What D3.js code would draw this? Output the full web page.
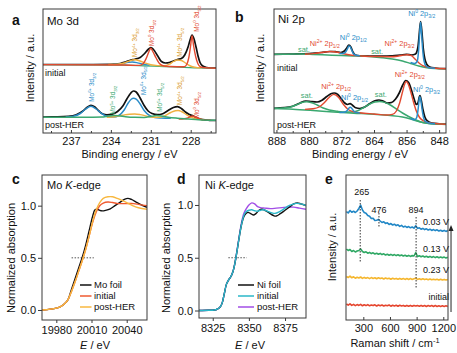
<!DOCTYPE html>
<html><head><meta charset="utf-8">
<script src="https://cdn.jsdelivr.net/npm/d3@7"></script>
<style>body{margin:0;background:#fff} text{font-family:"Liberation Sans",Arial,sans-serif}</style>
</head><body><script>
// ---- colours
const RED="#e2492f", ORANGE="#f0b040", ORANGE_T="#d99a2b", BLUE="#2a8cc8", GREEN="#3aa870";

// ---- panel a : Mo 3d  [binding energy, intensity]
const moInitTotal=[[239.1,68.5],[236,68.5],[234,68.7],[233.3,69.5],[232.9,71],[232.5,73],[232.2,73.8],[231.8,75.5],[231.5,79],[231.2,83.5],[231.0,85.3],[230.8,83.5],[230.5,77.5],[230.2,71.5],[229.9,70],[229.6,70.5],[229.3,72],[229.0,73.5],[228.7,74.5],[228.45,78],[228.2,86],[228.05,93],[227.9,98],[227.75,94],[227.6,86],[227.45,77],[227.3,70.5],[227.1,67],[226.8,65.5],[226.1,64.8]];
const moInitMo0=[[239.1,68.4],[233,68],[231.9,67.6],[231.6,69],[231.35,74.5],[231.15,81],[231.0,84.8],[230.85,81.5],[230.6,75],[230.35,69.5],[230.0,67],[229,66.3],[228.5,66.2],[228.3,68.5],[228.15,75],[228.02,86],[227.9,97.3],[227.78,87],[227.62,76],[227.45,69],[227.25,66],[226.9,65.2],[226.1,64.8]];
const moInitMo4=[[234.2,68.5],[233.5,68.8],[233,70],[232.6,72.2],[232.2,73.3],[231.8,72],[231.4,69.8],[231,68.3],[230.5,67.4],[230,67.2],[229.6,68.8],[229.3,71.5],[229,73],[228.7,72.5],[228.4,70],[228.1,67.5],[227.7,65.8],[227.2,65.1]];
const moInitMo6=[[233.8,68.6],[233.2,69.2],[232.7,70.6],[232.4,71],[232.0,70.2],[231.6,68.8],[231.1,67.9]];
const moInitBg=[[239.1,68.3],[235,68.2],[233,67.9],[231.5,67.2],[230,66.4],[228.5,65.7],[227.5,65.1],[226.1,64.7]];
const moPostTotal=[[239.1,16],[238,16.1],[237.2,16.6],[236.6,18.2],[236.1,22],[235.8,25.5],[235.5,27.7],[235.2,26],[234.9,22],[234.6,19],[234.3,18.2],[233.9,18.8],[233.5,21.5],[233.1,27],[232.8,34],[232.5,40],[232.3,42],[232.1,41],[231.8,35],[231.5,27.5],[231.2,22],[230.9,19.5],[230.5,18.3],[230.1,19.3],[229.7,22.5],[229.3,25.5],[229.0,26.3],[228.7,24.5],[228.4,21],[228.1,18.5],[227.8,17],[227.5,15],[227.1,13.3],[226.6,12.7],[226.1,12.5]];
const moPostMo6=[[237.4,15.9],[236.8,16.8],[236.3,19.5],[235.9,24],[235.5,26.8],[235.1,24],[234.7,19.5],[234.3,16.6],[233.8,15.9],[233.4,17.5],[233.0,23],[232.7,30],[232.45,34],[232.3,34.7],[232.1,33.8],[231.8,29],[231.5,22.5],[231.1,17.5],[230.7,15.5],[230.2,15],[229.5,14.7]];
const moPostMo4=[[234.3,15.8],[233.7,16.3],[233.1,17.8],[232.6,18.8],[232.2,19],[231.8,18.4],[231.3,16.9],[230.8,15.8],[230.3,15.8],[229.9,17.5],[229.5,20.5],[229.15,22.3],[228.95,22.5],[228.7,21.5],[228.4,19],[228.0,16],[227.6,14.2],[227.0,13.2]];
const moPostMo5=[[239.1,15.8],[236,15.8],[234.7,16],[234.2,16.9],[233.8,17.6],[233.4,17.2],[232.9,16.3],[232.2,15.7],[231.5,15.6],[231.0,16.5],[230.6,17.4],[230.2,17.0],[229.7,15.8],[229,14.8],[228.2,14],[227.4,13.2],[226.1,12.7]];
const moPostMo0=[[228.9,13.9],[228.5,14.2],[228.2,15.2],[228.0,16.5],[227.85,17],[227.7,16.5],[227.5,15],[227.25,13.6],[226.9,13.1],[226.5,12.9]];
const moTicks=[237,234,231,228];
const moInitLabels=[{be:232.19,i:76,ion:"4+",orb:"3/2",c:ORANGE_T},{be:230.93,i:87,ion:"0",orb:"3/2",c:RED},{be:228.8,i:76.3,ion:"4+",orb:"5/2",c:ORANGE_T},{be:227.55,i:101.3,ion:"0",orb:"5/2",c:RED}];
const moPostLabels=[{be:235.44,i:31.3,ion:"6+",orb:"3/2",c:BLUE},{be:233.84,i:18.5,ion:"5+",orb:"3/2",c:GREEN},{be:231.56,i:38,ion:"6+",orb:"5/2",c:BLUE},{be:230.31,i:21.3,ion:"5+",orb:"5/2",c:GREEN},{be:228.8,i:28,ion:"4+",orb:"5/2",c:ORANGE_T},{be:227.55,i:14.7,ion:"0",orb:"5/2",c:RED}];

// ---- panel b : Ni 2p
const niInitTotal=[[888.6,78.7],[884,79],[880,79.5],[877,80.5],[875,81.5],[873.5,81.3],[872.2,80.5],[871.3,82],[870.7,85],[870.2,88],[869.7,86],[869.2,81],[868.6,78],[867.5,77.2],[865,77],[862,76.8],[859.5,77.2],[857.5,78],[856,78.6],[854.8,78],[853.8,79],[853.2,86],[852.9,98],[852.55,111.3],[852.2,100],[851.9,85],[851.5,74],[851,68.5],[850.3,66],[849,65],[846.3,64.3]];
const niInitNi2=[[881,78.8],[878.5,79.6],[876.5,80.8],[874.7,81.5],[873,80.8],[871.5,79.2],[869.5,77.8],[867,77],[863,76.5],[860,76.3],[858.3,76.8],[857,77.8],[855.8,78.3],[854.8,77.3],[853.8,73.5],[852.8,69.5],[851.5,66.5],[849.5,65],[846.3,64.3]];
const niInitNi0a=[[872.5,79.5],[871.4,79.8],[870.9,81.5],[870.5,84.5],[870.2,87],[869.9,86.5],[869.5,83],[869.1,79.5],[868.5,77.8],[867.5,77.2]];
const niInitNi0b=[[855,70.5],[854,69.5],[853.4,71.5],[853.05,82],[852.8,98],[852.55,110.8],[852.3,99],[852.05,84],[851.7,72],[851.2,67],[850.4,65.3],[849,64.8]];
const niInitSat=[[888.6,78.7],[885,78.8],[882,79],[879,78.6],[875.5,78],[872,77.4],[869,77],[866,76.7],[864.5,76.3],[862,75.3],[859.5,74],[857,72],[855,69.5],[853,67],[851,65.3],[849,64.5],[846.3,64.2]];
const niPostTotal=[[888.6,24.7],[886,25.3],[884,26.8],[882.3,29.8],[880.8,32],[879.3,31.3],[878,31],[876.8,32.8],[875.6,36.5],[874.6,39.3],[873.8,40],[873,38.8],[872.1,34.5],[871.2,30],[870.5,28.5],[869.9,29.3],[869.3,27.8],[868.5,25.2],[867.5,24.5],[866.3,26],[865,29.5],[863.8,32.3],[862.8,33],[861.8,32],[860.7,30],[859.7,30.5],[858.7,34],[857.8,40],[857,47.5],[856.2,52.5],[855.5,50.5],[854.8,43],[854.1,33.5],[853.6,28.5],[853.2,30],[852.9,35.5],[852.7,37.5],[852.4,33],[852,24],[851.5,16],[850.8,11.8],[849.8,10],[848,9.2],[846.3,8.8]];
const niPostNi2=[[881,23.6],[879,24.2],[877.5,26],[876.3,30],[875.1,35.3],[873.9,38.6],[872.7,35.5],[871.6,29],[870.5,24],[869.2,21.3],[867.5,20.2],[864,19],[861,18],[859.5,18.6],[858.5,22],[857.7,30],[857,41],[856.5,48.5],[856.1,51.5],[855.6,49],[855,41.5],[854.3,31],[853.6,22],[852.8,15.5],[851.8,12],[850.5,10.3],[848.5,9.3],[846.3,8.7]];
const niPostNi0a=[[872.5,20.6],[871.3,20.8],[870.6,22.5],[870.2,24.8],[869.85,25.7],[869.5,24.8],[869.1,22.5],[868.5,20.6],[867.5,20]];
const niPostNi0b=[[855,14.5],[854,13.3],[853.5,15.5],[853.15,24],[852.85,35],[852.7,36.3],[852.5,33],[852.2,24],[851.8,15],[851.3,11.3],[850.5,10],[849,9.3]];
const niPostSat=[[888.6,24.7],[886.5,25],[884.5,26],[883,28.2],[881.8,30.5],[880.6,31.3],[879.3,30.3],[878,28],[876.5,25],[875,23],[873,21.7],[871,21],[869.5,21],[868,22.3],[866.5,25.5],[865,29],[863.8,31],[862.6,31.5],[861.4,30.6],[860,28],[858.5,24],[857,20],[855.5,16.5],[854,13.5],[852.5,11],[850.5,9.6],[848,8.9],[846.3,8.6]];
const niPostBg=[[888.6,24.5],[884,23.8],[879,22.5],[874,21],[869,19.8],[864,18.7],[860,17.5],[857,16],[855,14],[853,11.5],[851,9.8],[848.5,9],[846.3,8.7]];
const niTicks=[888,880,872,864,856,848];
const niInitLabels=[{be:882.7,i:81.3,sat:1,c:GREEN},{be:879.8,i:87,ion:"2+",orb:"1/2",c:RED},{be:872.4,i:93,ion:"0",orb:"1/2",c:BLUE},{be:864.7,i:79,sat:1,c:GREEN},{be:861.4,i:87,ion:"2+",orb:"3/2",c:RED},{be:855.6,i:117,ion:"0",orb:"3/2",c:BLUE}];
const niPostLabels=[{be:882,i:34.7,sat:1,c:GREEN},{be:877,i:43.7,ion:"2+",orb:"1/2",c:RED},{be:872.1,i:33,ion:"0",orb:"1/2",c:BLUE},{be:863.8,i:36.3,sat:1,c:GREEN},{be:858.9,i:56.3,ion:"2+",orb:"3/2",c:RED},{be:854.4,i:41.3,ion:"0",orb:"3/2",c:BLUE}];

// ---- panel c : Mo K-edge [E, normalized absorption]
const moFoil=[[19967.8,0],[19975,0.008],[19980,0.018],[19984,0.035],[19987,0.06],[19990,0.1],[19993,0.2],[19996,0.3],[19999,0.4],[20002,0.5],[20005,0.62],[20008,0.76],[20011,0.9],[20013,0.96],[20015,0.965],[20017,0.955],[20019,0.95],[20022,0.955],[20026,0.97],[20030,1.0],[20034,1.03],[20038,1.06],[20041,1.07],[20044,1.06],[20048,1.035],[20052,1.01],[20057.3,0.985]];
const moInitial=[[19967.8,0],[19975,0.008],[19980,0.018],[19984,0.035],[19987,0.06],[19990,0.1],[19993,0.18],[19996,0.27],[19999,0.37],[20002,0.47],[20005,0.58],[20008,0.71],[20011,0.84],[20014,0.94],[20017,1.0],[20020,1.025],[20024,1.035],[20028,1.03],[20033,1.02],[20040,1.02],[20046,1.02],[20051,1.01],[20057.3,1.0]];
const moPost=[[19967.8,0],[19975,0.008],[19980,0.018],[19984,0.035],[19987,0.06],[19990,0.1],[19993,0.18],[19996,0.27],[19999,0.37],[20002,0.47],[20005,0.58],[20008,0.71],[20011,0.85],[20014,0.96],[20017,1.03],[20020,1.07],[20024,1.085],[20028,1.085],[20032,1.07],[20036,1.05],[20040,1.03],[20045,1.0],[20050,0.98],[20057.3,0.965]];
const moKTicks=[19980,20010,20040];

// ---- panel d : Ni K-edge
const niFoil=[[8315.5,0],[8322,0.002],[8326,0.005],[8328,0.012],[8330,0.03],[8331.5,0.07],[8333,0.16],[8334.5,0.25],[8336,0.29],[8337.5,0.32],[8339,0.37],[8340.5,0.46],[8342,0.58],[8343.5,0.71],[8345,0.82],[8346.5,0.89],[8348,0.92],[8349.5,0.93],[8351,0.92],[8353,0.905],[8355,0.92],[8357,0.95],[8359,0.96],[8361,0.95],[8364,0.925],[8367,0.9],[8369,0.895],[8372,0.92],[8375,0.95],[8378,0.98],[8381,1.01],[8383.5,1.02],[8386,1.01],[8389.5,0.995]];
const niInitial=[[8315.5,0],[8322,0.002],[8326,0.005],[8328,0.012],[8330,0.03],[8331.5,0.07],[8333,0.16],[8334.5,0.25],[8336,0.29],[8337.5,0.32],[8339,0.37],[8340.5,0.46],[8342,0.58],[8343.5,0.71],[8345,0.82],[8346.5,0.9],[8348,0.935],[8350,0.95],[8352,0.955],[8354,0.945],[8356,0.94],[8358,0.95],[8360,0.955],[8363,0.94],[8366,0.925],[8368,0.92],[8371,0.935],[8374,0.96],[8377,0.99],[8380,1.005],[8383,1.015],[8386,1.01],[8389.5,0.995]];
const niPost=[[8315.5,0],[8322,0.002],[8326,0.005],[8328,0.012],[8330,0.03],[8331.5,0.07],[8333,0.16],[8334.5,0.25],[8336,0.29],[8337.5,0.32],[8339,0.37],[8340.5,0.46],[8342,0.59],[8343.5,0.72],[8345,0.84],[8346.5,0.92],[8348,0.96],[8350,1.0],[8352,1.02],[8354,1.01],[8356,0.985],[8358,0.975],[8361,0.97],[8365,0.965],[8369,0.97],[8373,0.975],[8377,0.98],[8381,0.98],[8385,0.97],[8389.5,0.96]];
const niKTicks=[8325,8350,8375];

// ---- panel e : Raman
const ramanShift=[110,130,150,170,190,210,230,250,270,290,310,330,350,370,390,410,430,450,470,490,510,530,550,570,590,610,630,650,670,690,710,730,750,770,790,810,830,850,870,890,910,930,950,970,990,1010,1030,1050,1070,1090,1110,1130,1150,1170,1190,1210,1230,1250];
const raman003=[108.5,107,109.5,107.8,108.8,107.5,109,111.5,114.8,110,107.5,106.8,104.5,103.8,101.5,101.8,99.5,99.8,100.6,99,97.5,98.2,96.6,97.2,95.6,96.4,95,95.8,94.4,95.2,93.6,94.6,93,93.8,92.6,93.4,92.2,93,91.8,94.2,91.6,92.2,90.8,91.6,90.4,91.2,90,90.8,89.6,90.4,89.4,90.2,89,89.8,88.8,89.6,88.6,89.4];
const raman013=[71,69.5,70.5,68.5,69.5,68,69,69.5,71,68.5,67.5,68.2,66.8,67.6,66.4,67.2,66,66.8,65.8,66.6,65.4,66.2,65,65.8,64.8,65.6,64.6,65.4,64.4,65.2,64.2,65,64,64.8,63.8,64.6,63.6,64.4,64,67.5,63.4,64.2,63.2,64,63,63.8,62.8,63.6,62.6,63.4,62.4,63.2,62.3,63,62.2,62.9,62,62.7];
const raman023=[43.5,42.5,43.8,42.2,43.2,41.8,42.8,42,43,41.6,42.6,41.8,42.4,41.4,42.4,41.6,42.2,41.2,42.2,41.4,42,41,42,41.2,41.8,40.8,41.8,41,41.6,40.8,41.6,40.8,41.5,40.6,41.4,40.6,41.4,40.6,41.2,41.8,40.6,41.2,40.4,41.2,40.4,41,40.2,41,40.2,40.8,40.2,40.8,40,40.8,40,40.6,40,40.6];
const ramanInit=[16,14.8,16.2,14.6,15.6,14.4,15.4,14.6,15.6,14.2,15.2,14.4,15.4,14.2,15,14.4,15.2,14,15,14.2,15,14,14.8,14.2,15,13.8,14.8,14,14.8,13.8,14.8,14,14.6,13.8,14.6,13.8,14.6,13.8,14.6,14,14.4,13.8,14.6,13.8,14.4,13.6,14.4,13.8,14.4,13.6,14.4,13.6,14.2,13.6,14.2,13.6,14.2,13.6];
const ramanPeaks=[{s:265,top:120,bot:58},{s:476,top:107,bot:92},{s:894,top:103,bot:32}];
const ramanSeries=[{v:raman003,c:"#2187c6",label:"0.03 V",ly:95},{v:raman013,c:"#2fa864",label:"0.13 V",ly:68.3},{v:raman023,c:"#f5b62e",label:"0.23 V",ly:46.7},{v:ramanInit,c:"#e5452e",label:"initial",ly:20}];
const ramanTicks=[300,600,900,1200];

// ---- scales
const xA=d3.scaleLinear().domain([239.1,226.1]).range([43,216]);
const yA=d3.scaleLinear().domain([0,124]).range([133,9]);
const xB=d3.scaleLinear().domain([888.6,846.3]).range([274,446]);
const yB=yA;
const xC=d3.scaleLinear().domain([19967.8,20057.3]).range([42,147]);
const yC=d3.scaleLinear().domain([-0.096,1.294]).range([320,175]);
const xD=d3.scaleLinear().domain([8315.5,8389.5]).range([199,306]);
const yD=d3.scaleLinear().domain([-0.071,1.284]).range([318,175]);
const xE=d3.scaleLinear().domain([105,1253]).range([346,448]);
const yE=d3.scaleLinear().domain([0,145]).range([320,175]);

const svg=d3.select("body").append("svg").attr("width",457).attr("height",353);
const FONT='"Liberation Sans",Arial,sans-serif';

function plotArea(xs,ys,id){
  const [x0,x1]=xs.range(),[y0,y1]=ys.range();
  svg.append("clipPath").attr("id",id).append("rect")
    .attr("x",Math.min(x0,x1)).attr("y",Math.min(y0,y1))
    .attr("width",Math.abs(x1-x0)).attr("height",Math.abs(y1-y0));
  return svg.append("g").attr("clip-path",`url(#${id})`);
}
function frame(xs,ys){
  const [x0,x1]=xs.range(),[y0,y1]=ys.range();
  svg.append("rect").attr("x",x0).attr("y",y1).attr("width",x1-x0).attr("height",y0-y1)
    .attr("fill","none").attr("stroke","#3a3a3a").attr("stroke-width",1);
}
function drawLine(g,data,xs,ys,color,w,curve){
  g.append("path").datum(data)
    .attr("d",d3.line().x(d=>xs(d[0])).y(d=>ys(d[1])).curve(curve||d3.curveMonotoneX))
    .attr("fill","none").attr("stroke",color).attr("stroke-width",w).attr("stroke-linejoin","round");
}
function xAxis(xs,ys,ticks,inward,minor,fmt){
  const g=svg.append("g").attr("transform",`translate(0,${ys.range()[0]})`)
    .call(d3.axisBottom(xs).tickValues(ticks).tickFormat(fmt||d3.format("d"))
      .tickSizeInner(inward?-3:3).tickSizeOuter(0).tickPadding(inward?4:3));
  g.select(".domain").remove();
  g.attr("font-size",11).attr("font-family",FONT);
  g.selectAll("text").attr("fill","#111");
  g.selectAll("line").attr("stroke","#3a3a3a");
  if(minor){
    const m=svg.append("g").attr("transform",`translate(0,${ys.range()[0]})`)
      .call(d3.axisBottom(xs).tickValues(minor).tickFormat("").tickSizeInner(inward?-2:2).tickSizeOuter(0));
    m.select(".domain").remove();
    m.selectAll("line").attr("stroke","#3a3a3a");
  }
}
function yAxis(xs,ys,ticks){
  const g=svg.append("g").attr("transform",`translate(${xs.range()[0]},0)`)
    .call(d3.axisLeft(ys).tickValues(ticks).tickFormat(d3.format(".1f")).tickSizeInner(4).tickSizeOuter(0).tickPadding(2));
  g.select(".domain").remove();
  g.attr("font-size",11).attr("font-family",FONT);
  g.selectAll("text").attr("fill","#111");
  g.selectAll("line").attr("stroke","#3a3a3a");
}
function text(x,y,s,o){
  o=o||{};
  const t=svg.append("text").attr("x",x).attr("y",y).attr("font-size",o.size||11)
    .attr("fill",o.color||"#111").attr("text-anchor",o.anchor||"start").text(s);
  if(o.bold) t.attr("font-weight","bold");
  if(o.rotate) t.attr("transform",`rotate(-90 ${x} ${y})`);
  return t;
}
function rich(x,y,parts,size,color,o){
  o=o||{};
  const t=svg.append("text").attr("x",x).attr("y",y).attr("font-size",size).attr("fill",color)
    .attr("text-anchor",o.anchor||"start");
  if(o.rotate) t.attr("transform",`rotate(-90 ${x} ${y})`);
  let cur=0;
  parts.forEach(([s,k,st])=>{
    const off=k===1?-0.4*size:k===-1?0.25*size:0;
    const sp=t.append("tspan").attr("dy",off-cur).attr("font-size",k?size*0.68:size).text(s);
    if(st) sp.attr("font-style","italic");
    cur=off;
  });
  return t;
}

// ================= panel a
{
  const g=plotArea(xA,yA,"clipA");
  drawLine(g,moInitTotal,xA,yA,"#111",1.7);
  drawLine(g,moInitBg,xA,yA,GREEN,1.3);
  drawLine(g,moInitMo6,xA,yA,BLUE,1.3);
  drawLine(g,moInitMo4,xA,yA,ORANGE,1.4);
  drawLine(g,moInitMo0,xA,yA,RED,1.4);
  drawLine(g,moPostTotal,xA,yA,"#111",1.7);
  drawLine(g,moPostMo6,xA,yA,BLUE,1.5);
  drawLine(g,moPostMo4,xA,yA,ORANGE,1.4);
  drawLine(g,moPostMo0,xA,yA,RED,1.4);
  drawLine(g,moPostMo5,xA,yA,GREEN,1.5);
  frame(xA,yA);
  xAxis(xA,yA,moTicks,true,[238.5,235.5,232.5,229.5,226.5]);
  const fs=6.4;
  moInitLabels.concat(moPostLabels).forEach(l=>{
    rich(xA(l.be)+fs*0.35,yA(l.i),[["Mo",0],[l.ion,1],[" 3d",0],[l.orb,-1]],fs,l.c,{rotate:true});
  });
  text(45,76,"initial",{size:9});
  text(45,127.5,"post-HER",{size:9});
  text(47,25,"Mo 3d",{size:11.5});
  text(12,25,"a",{size:14,bold:true});
  text(34,68,"Intensity / a.u.",{rotate:true,anchor:"middle"});
  text(129.5,158,"Binding energy / eV",{anchor:"middle"});
}

// ================= panel b
{
  const g=plotArea(xB,yB,"clipB");
  drawLine(g,niInitTotal,xB,yB,"#111",1.7);
  drawLine(g,niInitSat,xB,yB,GREEN,1.5);
  drawLine(g,niInitNi2,xB,yB,RED,1.4);
  drawLine(g,niInitNi0a,xB,yB,BLUE,1.5);
  drawLine(g,niInitNi0b,xB,yB,BLUE,1.5);
  drawLine(g,niPostTotal,xB,yB,"#111",1.7);
  drawLine(g,niPostBg,xB,yB,GREEN,1.5);
  drawLine(g,niPostSat,xB,yB,GREEN,1.5);
  drawLine(g,niPostNi2,xB,yB,RED,1.4);
  drawLine(g,niPostNi0a,xB,yB,BLUE,1.5);
  drawLine(g,niPostNi0b,xB,yB,BLUE,1.5);
  frame(xB,yB);
  xAxis(xB,yB,niTicks,true,[884,876,868,860,852]);
  const fs=7.4;
  niInitLabels.concat(niPostLabels).forEach(l=>{
    if(l.sat) rich(xB(l.be),yB(l.i),[["sat.",0]],fs,l.c);
    else rich(xB(l.be),yB(l.i),[["Ni",0],[l.ion,1],[" 2p",0],[l.orb,-1]],fs,l.c);
  });
  text(277,70.5,"initial",{size:9});
  text(277,127.5,"post-HER",{size:9});
  text(278,23,"Ni 2p",{size:11.5});
  text(235,22,"b",{size:14,bold:true});
  text(264,68,"Intensity / a.u.",{rotate:true,anchor:"middle"});
  text(360,158,"Binding energy / eV",{anchor:"middle"});
}

// ================= panel c
{
  const g=plotArea(xC,yC,"clipC");
  g.append("line").attr("x1",xC(19993)).attr("x2",xC(20012)).attr("y1",yC(0.5)).attr("y2",yC(0.5))
    .attr("stroke","#555").attr("stroke-dasharray","1.5,1.5").attr("stroke-width",1);
  const cr=d3.curveCatmullRom.alpha(0.5);
  drawLine(g,moFoil,xC,yC,"#111",1.4,cr);
  drawLine(g,moInitial,xC,yC,"#ef5a30",1.4,cr);
  drawLine(g,moPost,xC,yC,"#f8b840",1.4,cr);
  frame(xC,yC);
  xAxis(xC,yC,moKTicks,false);
  yAxis(xC,yC,[0,0.5,1]);
  [["Mo foil","#111",288],["initial","#ef5a30",299],["post-HER","#f8b840",310]].forEach(([s,c,y])=>{
    svg.append("line").attr("x1",80).attr("x2",91.5).attr("y1",y-3).attr("y2",y-3).attr("stroke",c).attr("stroke-width",1.5);
    text(94,y,s,{size:9.5});
  });
  rich(47,189,[["Mo ",0],["K",0,true],["-edge",0]],11,"#111");
  text(12,184,"c",{size:14,bold:true});
  text(15,258,"Normalized absorption",{rotate:true,anchor:"middle"});
  rich(95,349,[["E",0,true],[" / eV",0]],11,"#111",{anchor:"middle"});
}

// ================= panel d
{
  const g=plotArea(xD,yD,"clipD");
  g.append("line").attr("x1",xD(8335.8)).attr("x2",xD(8348.5)).attr("y1",yD(0.5)).attr("y2",yD(0.5))
    .attr("stroke","#555").attr("stroke-dasharray","1.5,1.5").attr("stroke-width",1);
  const cr=d3.curveCatmullRom.alpha(0.5);
  drawLine(g,niPost,xD,yD,"#a24ee6",1.4,cr);
  drawLine(g,niFoil,xD,yD,"#111",1.4,cr);
  drawLine(g,niInitial,xD,yD,"#2bb7c9",1.4,cr);
  frame(xD,yD);
  xAxis(xD,yD,niKTicks,false);
  yAxis(xD,yD,[0,0.5,1]);
  [["Ni foil","#111",288],["initial","#2bb7c9",299],["post-HER","#a24ee6",310]].forEach(([s,c,y])=>{
    svg.append("line").attr("x1",238).attr("x2",254).attr("y1",y-3).attr("y2",y-3).attr("stroke",c).attr("stroke-width",1.5);
    text(257,y,s,{size:9.5});
  });
  rich(205,189,[["Ni ",0],["K",0,true],["-edge",0]],11,"#111");
  text(177,184,"d",{size:14,bold:true});
  text(170,258,"Normalized absorption",{rotate:true,anchor:"middle"});
  rich(250,349,[["E",0,true],[" / eV",0]],11,"#111",{anchor:"middle"});
}

// ================= panel e
{
  const g=plotArea(xE,yE,"clipE");
  ramanSeries.forEach(s=>{
    drawLine(g,s.v.map((v,i)=>[ramanShift[i],v]),xE,yE,s.c,1.6,d3.curveLinear);
  });
  ramanPeaks.forEach(p=>{
    g.append("line").attr("x1",xE(p.s)).attr("x2",xE(p.s)).attr("y1",yE(p.top)).attr("y2",yE(p.bot))
      .attr("stroke","#333").attr("stroke-dasharray","1.5,1.5").attr("stroke-width",1);
  });
  frame(xE,yE);
  xAxis(xE,yE,ramanTicks,true);
  text(xE(265)+1.5,195,"265",{size:9,anchor:"middle"});
  text(xE(476),212.5,"476",{size:9,anchor:"middle"});
  text(xE(894),212.5,"894",{size:9,anchor:"middle"});
  ramanSeries.forEach(s=>text(449,yE(s.ly),s.label,{size:9,anchor:"end"}));
  // arrow
  const ax=xE(1287);
  svg.append("line").attr("x1",ax).attr("x2",ax).attr("y1",yE(8)).attr("y2",yE(90)).attr("stroke","#222").attr("stroke-width",1);
  svg.append("path").attr("d",`M${ax-2.5},${yE(89)} L${ax},${yE(95)} L${ax+2.5},${yE(89)} Z`).attr("fill","#222");
  text(325,184,"e",{size:14,bold:true});
  text(336,247,"Intensity / a.u.",{rotate:true,anchor:"middle"});
  rich(395,347,[["Raman shift / cm",0],["-1",1]],11,"#111",{anchor:"middle"});
}
</script></body></html>
